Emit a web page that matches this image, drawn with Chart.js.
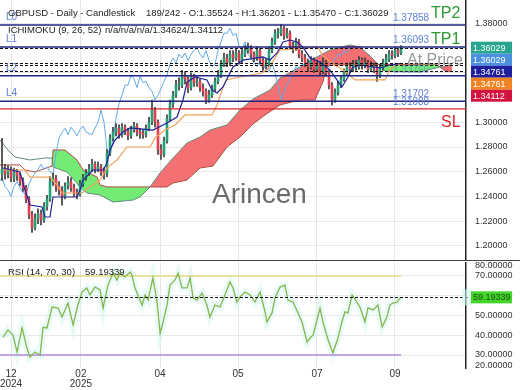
<!DOCTYPE html>
<html>
<head>
<meta charset="utf-8">
<script src="https://cdn.jsdelivr.net/npm/chart.js@4.4.1/dist/chart.umd.min.js"></script>
<style>
body { margin: 0; background: #fff; }
#wrap { position: relative; width: 520px; height: 390px; overflow: hidden; }
canvas { position: absolute; left: 0; }
</style>
</head>
<body>
<div id="wrap">
  <canvas id="main" width="520" height="260" style="top:0"></canvas>
  <canvas id="rsi" width="520" height="130" style="top:260px"></canvas>
</div>
<script>
// GBPUSD daily candles (one candle per ~1.5 sessions)
const closes = [
  1.262,1.258,1.262,1.255,1.260,1.257,1.252,1.247,1.238,1.225,
  1.215,1.222,1.226,1.221,1.232,1.238,1.252,1.255,1.248,1.245,
  1.240,1.248,1.252,1.247,1.243,1.242,1.250,1.255,1.259,1.262,
  1.266,1.262,1.264,1.260,1.258,1.275,1.287,1.292,1.295,1.290,
  1.296,1.293,1.289,1.294,1.297,1.292,1.291,1.290,1.295,1.300,
  1.310,1.300,1.278,1.274,1.285,1.303,1.315,1.322,1.330,1.330,
  1.338,1.335,1.328,1.337,1.332,1.333,1.328,1.325,1.318,1.322,
  1.327,1.333,1.338,1.347,1.352,1.348,1.355,1.352,1.356,1.350,
  1.355,1.358,1.360,1.355,1.352,1.358,1.350,1.345,1.347,1.358,
  1.365,1.372,1.372,1.376,1.370,1.372,1.362,1.360,1.365,1.355,
  1.352,1.348,1.345,1.350,1.343,1.346,1.341,1.348,1.340,1.330,
  1.318,1.324,1.330,1.335,1.340,1.345,1.343,1.347,1.345,1.350,
  1.346,1.348,1.343,1.345,1.344,1.338,1.344,1.348,1.351,1.355,
  1.354,1.358,1.356,1.36029
];
const highs = [
  1.287,1.266,1.265,1.264,1.263,1.262,1.259,1.255,1.249,1.240,
  1.228,1.226,1.230,1.229,1.235,1.241,1.256,1.259,1.257,1.252,
  1.248,1.251,1.256,1.255,1.250,1.246,1.253,1.258,1.262,1.266,
  1.270,1.268,1.268,1.266,1.263,1.278,1.290,1.296,1.299,1.298,
  1.299,1.298,1.295,1.297,1.300,1.299,1.295,1.294,1.298,1.304,
  1.318,1.312,1.302,1.282,1.288,1.306,1.318,1.325,1.334,1.336,
  1.342,1.341,1.337,1.340,1.339,1.337,1.335,1.331,1.327,1.326,
  1.330,1.336,1.342,1.350,1.356,1.355,1.358,1.358,1.360,1.358,
  1.359,1.362,1.364,1.362,1.357,1.361,1.360,1.352,1.351,1.361,
  1.368,1.375,1.376,1.379,1.378,1.376,1.374,1.365,1.368,1.367,
  1.358,1.355,1.351,1.353,1.352,1.350,1.349,1.352,1.350,1.342,
  1.332,1.327,1.333,1.338,1.343,1.348,1.348,1.350,1.350,1.353,
  1.352,1.352,1.350,1.349,1.348,1.346,1.347,1.351,1.355,1.358,
  1.358,1.361,1.360,1.36201
];
const lows = [
  1.253,1.254,1.255,1.252,1.252,1.253,1.249,1.244,1.235,1.222,
  1.211,1.213,1.218,1.217,1.219,1.229,1.236,1.249,1.244,1.241,
  1.233,1.238,1.246,1.244,1.240,1.238,1.240,1.248,1.253,1.257,
  1.260,1.259,1.260,1.257,1.254,1.256,1.273,1.285,1.289,1.287,
  1.288,1.290,1.286,1.287,1.292,1.289,1.287,1.287,1.288,1.293,
  1.298,1.296,1.274,1.270,1.272,1.283,1.301,1.312,1.320,1.326,
  1.328,1.331,1.324,1.326,1.329,1.329,1.325,1.321,1.315,1.316,
  1.320,1.325,1.331,1.336,1.345,1.345,1.346,1.349,1.350,1.347,
  1.348,1.353,1.356,1.352,1.349,1.350,1.347,1.342,1.343,1.345,
  1.356,1.363,1.368,1.370,1.367,1.368,1.359,1.356,1.358,1.352,
  1.349,1.345,1.341,1.343,1.340,1.341,1.338,1.339,1.337,1.327,
  1.314,1.316,1.322,1.328,1.333,1.338,1.340,1.341,1.342,1.343,
  1.343,1.344,1.340,1.341,1.340,1.333,1.336,1.342,1.346,1.349,
  1.351,1.352,1.353,1.3547
];
const firstOpen = 1.258;

// Ichimoku (9, 26, 52) lines, [candle index, price]
const tenkanIdx = [0.33,6,7.67,9.33,13.33,14.33,16,17,25,26,27,30.33,33.67,35,36,37.67,40.33,42.67,50.33,55,58.33,60.33,61.67,64.33,68.33,70,71.67,73.67,75.33,77,80.33,87,89.33,91.67,93.67,96,98.33,100.33,102.67,106,109.33,111.67,113.33,115.33,117,119.33,126,129.33,133];
const tenkanVal = [1.2630,1.2598,1.2452,1.2331,1.2315,1.2234,1.2234,1.2396,1.2396,1.2452,1.2533,1.2614,1.2614,1.2671,1.2776,1.2857,1.2921,1.2954,1.2937,1.2994,1.3042,1.3180,1.3325,1.3366,1.3342,1.3261,1.3237,1.3285,1.3366,1.3447,1.3503,1.3528,1.3503,1.3560,1.3649,1.3665,1.3649,1.3608,1.3520,1.3487,1.3422,1.3342,1.3285,1.3366,1.3447,1.3463,1.3439,1.3463,1.34761];
const kijunIdx = [0.33,7.67,9.33,16,18.33,20,26.67,29.33,32.67,35.33,38.33,41.67,49.33,51,54.33,57.67,61,70,71.67,73.33,74.67,81,86.67,88.67,91,92.67,105.33,106.67,110.33,114.33,117.67,127.67,129.33,133];
const kijunVal = [1.2614,1.2614,1.2557,1.2557,1.2493,1.2428,1.2428,1.2477,1.2533,1.2638,1.2695,1.2800,1.2800,1.2873,1.2937,1.2978,1.3059,1.3059,1.3140,1.3261,1.3342,1.3374,1.3398,1.3431,1.3520,1.3584,1.3608,1.3544,1.3471,1.3414,1.3342,1.3342,1.3431,1.34761];
const spanAIdx = [-0.67,2,4.33,9.33,14.33,16.67,17,21.67,26,28.33,32.67,37,43.67,46,49.33,52.67,55,57,61.67,66,69.33,75,79.33,83.67,89.33,92.67,99.33,104.33,109.33,116,119.33,122.67,127.67,139.33,146,150];
const spanAVal = [1.2857,1.2776,1.2719,1.2695,1.2711,1.2711,1.2638,1.2598,1.2477,1.2428,1.2412,1.2355,1.2371,1.2396,1.2477,1.2590,1.2655,1.2711,1.2832,1.2881,1.2937,1.2978,1.3099,1.3188,1.3261,1.3358,1.3447,1.3520,1.3584,1.3625,1.3608,1.3536,1.3414,1.3406,1.3447,1.34624];
const spanBIdx = [-0.67,6,7.67,11,16.67,17,21,25,27,31.67,32.67,35,49.33,55,57,61.67,66,70.33,75,79.33,83.67,87.67,92.67,99.33,104.33,105.33,107,108,109.33,144.67,146,147.67,150];
const spanBVal = [1.2655,1.2655,1.2614,1.2598,1.2646,1.2776,1.2776,1.2695,1.2614,1.2557,1.2493,1.2477,1.2477,1.2477,1.2509,1.2533,1.2630,1.2646,1.2800,1.2881,1.2986,1.3059,1.3140,1.3180,1.3180,1.3237,1.3325,1.3439,1.3463,1.3471,1.3447,1.3414,1.34112];
const chikouShift = 17;
const cloudStart = 17;

// RSI (14, 70, 30)
const rsiIdx = [0.3,2,3.7,5,6.7,8.3,9.3,11,12.7,13.7,15,16.7,18.7,20,22,23.7,25.3,26.7,28.3,29.3,31,32.7,33.7,35.3,37,38.3,39.3,41,42.7,43.3,44.3,45.3,46.7,47.7,48.7,50.3,51.7,52.7,53.7,55,56,57.7,58.7,60,61.7,62.7,63.7,65,66.7,68.3,69.3,71,72.7,74.3,76,77,78.3,79.3,81,82.7,84.3,86,87.7,88.3,90,91,92.7,94.3,95.3,97,98.7,100,101.7,102.7,103.7,106,107,108.7,110.3,112,113.3,114.3,115.3,116.7,118.3,119.3,121,122,123.7,125.3,126.7,128.3,129.3,130.3,131.7,132.7,133];
const rsiVal = [39,42.7,40,31.5,43.7,33.5,29,31.5,30,44,43.7,54.3,53.8,49.2,56.3,45.2,55.3,61.9,63.9,60.4,64.4,62.9,53.8,65.4,71.5,68,71.5,69.5,72,70.5,64,60.4,55.3,60.4,57.8,69,56.8,41,46.7,55.3,65.4,68,71.5,64,64,69,58.9,57.8,61.4,55.3,49.2,55.3,54.3,60.4,67,63.9,56.8,59.4,61.9,60.4,56.8,61.9,51.8,46.7,51.3,58.9,64.4,65.4,57.8,56.8,51.3,46.7,36.6,38.6,40.1,53.8,46.7,37.6,31,38.6,46.7,51.8,51.3,60.4,56.8,54.3,46.7,53.8,52.8,55.3,44.2,49.2,55.3,56.3,56.8,58.9,59.19339];
const rsiLast = 59.19339;

// axes
const monthIdx = [3, 26.3, 52.7, 78.7, 105, 131];
const monthLabels = [['12', '2024'], ['02', '2025'], '04', '05', '07', '09'];
const priceTicks = [1.20, 1.22, 1.24, 1.26, 1.28, 1.30, 1.32, 1.34, 1.36, 1.38];
const rsiTicks = [20, 30, 40, 50, 60, 70, 80];

// trade levels
const tp2 = 1.37858, tp1 = 1.36093, lvl2 = 1.33760, lvl4 = 1.31702, sl = 1.31088;
const dashLevels = [1.36029, 1.34761, 1.34624, 1.34112];

const FONT = '"Liberation Sans", Arial, sans-serif';
Chart.defaults.font.family = FONT;

const xMin = -0.67, xMax = 154.67;
const toPts = (xs, ys) => xs.map((x, i) => ({ x: x, y: ys[i] }));
const opens = [firstOpen].concat(closes.slice(0, -1));
const candleCols = closes.map((c, i) => c >= opens[i] ? '#23a078' : '#e2404e');

const spanA = toPts(spanAIdx, spanAVal);
const spanB = toPts(spanBIdx, spanBVal);

// no extra padding around the plot for edge tick labels
const noPad = s => { s.paddingTop = 0; s.paddingBottom = 0; s.paddingLeft = 0; s.paddingRight = 0; };

function hline(ctx, x1, x2, y) {
    ctx.beginPath();
    ctx.moveTo(x1, y);
    ctx.lineTo(x2, y);
    ctx.stroke();
}

const mainOverlay = {
    id: 'mainOverlay',
    beforeDatasetsDraw(chart) {
        const ctx = chart.ctx;
        ctx.save();
        ctx.fillStyle = '#6a6a6a';
        ctx.font = '28px ' + FONT;
        ctx.fillText('Arincen', 212, 203);
        ctx.restore();
    },
    afterDatasetsDraw(chart) {
        const { ctx, chartArea: a, scales: { y } } = chart;
        ctx.save();
        ctx.lineWidth = 1;
        ctx.strokeStyle = '#111';
        ctx.setLineDash([3, 2]);
        dashLevels.forEach(v => hline(ctx, a.left, a.right, Math.round(y.getPixelForValue(v)) + 0.5));
        ctx.setLineDash([]);
        ctx.strokeStyle = '#1f2580';
        ctx.lineWidth = 1.5;
        [tp2, tp1, lvl2, lvl4].forEach(v => hline(ctx, a.left, a.right, y.getPixelForValue(v)));
        ctx.strokeStyle = '#d8232a';
        ctx.lineWidth = 1.2;
        hline(ctx, a.left, a.right, y.getPixelForValue(sl));
        ctx.restore();
    },
    afterDraw(chart) {
        const { ctx, scales: { y } } = chart;
        const py = v => y.getPixelForValue(v);
        ctx.save();
        // level names on the left
        ctx.font = '10px ' + FONT;
        ctx.fillStyle = '#5b7fd6';
        [['L0', tp2], ['L1', tp1], ['L2', lvl2], ['L4', lvl4]].forEach(([t, v]) => ctx.fillText(t, 6, py(v) - 5));
        // level prices
        [tp2, tp1, lvl4, sl].forEach(v => ctx.fillText(v.toFixed(5), 393, py(v) - 4));
        ctx.globalAlpha = 0.6;
        ctx.fillText(lvl2.toFixed(5), 393, py(lvl2) - 3);
        ctx.globalAlpha = 1;
        // headers
        ctx.font = '9.5px ' + FONT;
        ctx.fillStyle = '#222';
        ctx.fillText('GBPUSD - Daily - Candlestick', 8, 16);
        ctx.fillText('189/242 - O:1.35524 - H:1.36201 - L:1.35470 - C:1.36029', 146, 16);
        ctx.fillText('ICHIMOKU (9, 26, 52)', 8, 33);
        ctx.fillText('n/a/n/a/n/a/1.34624/1.34112', 105, 33);
        // trade labels
        ctx.font = '16px ' + FONT;
        ctx.fillStyle = '#2f9a35';
        ctx.fillText('TP2', 431, py(tp2) - 7);
        ctx.fillText('TP1', 431, py(tp1) - 3);
        ctx.fillStyle = '#d8232a';
        ctx.fillText('SL', 441, py(sl) + 18);
        ctx.fillStyle = 'rgba(120,120,120,0.75)';
        ctx.fillText('At Price', 407, py(dashLevels[1]) + 2);
        // value boxes on the price axis
        const boxes = [
            [closes[closes.length - 1], '#27a58e'],
            [closes[closes.length - 1], '#4a8fe0'],
            [tenkanVal[tenkanVal.length - 1], '#1e1e9c'],
            [kijunVal[kijunVal.length - 1], '#f28322'],
            [spanBVal[spanBVal.length - 1], '#d3123d']
        ];
        let prev = -100;
        ctx.font = '9px ' + FONT;
        ctx.textBaseline = 'middle';
        boxes.forEach(([v, c]) => {
            const cy = Math.max(py(v), prev + 12);
            prev = cy;
            ctx.fillStyle = c;
            ctx.fillRect(471, cy - 6, 41, 12);
            ctx.fillStyle = '#fff';
            ctx.fillText(v.toFixed(5), 473, cy + 0.5);
        });
        ctx.restore();
    }
};

new Chart(document.getElementById('main'), {
    type: 'bar',
    data: {
        datasets: [
            {
                type: 'line', data: spanA.filter(p => p.x >= cloudStart),
                borderWidth: 0, pointRadius: 0,
                fill: { target: '+1', above: 'rgba(244,96,100,0.9)', below: 'rgba(92,232,92,0.85)' },
                order: 20
            },
            {
                type: 'line', data: spanB.filter(p => p.x >= cloudStart),
                borderWidth: 0, pointRadius: 0, fill: false, order: 20
            },
            { type: 'line', data: spanA, borderColor: '#5e8d7c', borderWidth: 1, pointRadius: 0, fill: false, order: 15 },
            { type: 'line', data: spanB, borderColor: '#b5483f', borderWidth: 1, pointRadius: 0, fill: false, order: 15 },
            {
                type: 'line',
                data: closes.map((c, i) => ({ x: i - chikouShift, y: c })),
                borderColor: '#62aae8', borderWidth: 1, pointRadius: 0, fill: false, order: 12
            },
            {
                data: closes.map((c, i) => ({ x: i, y: [lows[i], highs[i]] })),
                backgroundColor: '#3a3a3a', barThickness: 1, grouped: false, order: 8
            },
            {
                data: closes.map((c, i) => ({ x: i, y: [opens[i], c] })),
                backgroundColor: candleCols, barThickness: 2, minBarLength: 1, grouped: false, order: 6
            },
            { type: 'line', data: toPts(tenkanIdx, tenkanVal), borderColor: '#22229a', borderWidth: 1.2, pointRadius: 0, fill: false, order: 4 },
            { type: 'line', data: toPts(kijunIdx, kijunVal), borderColor: '#f2a25c', borderWidth: 1.2, pointRadius: 0, fill: false, order: 4 }
        ]
    },
    options: {
        responsive: false,
        animation: false,
        events: [],
        layout: { padding: 0 },
        plugins: { legend: { display: false }, tooltip: { enabled: false } },
        scales: {
            x: {
                type: 'linear', min: xMin, max: xMax, offset: false,
                grid: { color: '#e6e6e6', offset: false, drawTicks: false },
                border: { display: false },
                ticks: { display: false },
                afterBuildTicks: s => { s.ticks = monthIdx.map(v => ({ value: v })); },
                afterFit: s => { s.height = 0; noPad(s); }
            },
            y: {
                position: 'right',
                min: 1.18865, max: 1.39884,
                grid: { color: '#e8e8e8', drawTicks: false },
                border: { color: '#222', width: 1.5 },
                ticks: { color: '#333', padding: 9, font: { size: 9 }, callback: v => v.toFixed(5) },
                afterBuildTicks: s => { s.ticks = priceTicks.map(v => ({ value: v })); },
                afterFit: s => { s.width = 54; noPad(s); }
            }
        }
    },
    plugins: [mainOverlay]
});

const rsiOverlay = {
    id: 'rsiOverlay',
    afterDatasetsDraw(chart) {
        const { ctx, chartArea: a, scales: { y } } = chart;
        ctx.save();
        ctx.strokeStyle = '#111';
        ctx.lineWidth = 1;
        ctx.setLineDash([3, 2]);
        hline(ctx, a.left, a.right + 4, Math.round(y.getPixelForValue(rsiLast)) + 0.5);
        ctx.restore();
    },
    afterDraw(chart) {
        const { ctx, scales: { y } } = chart;
        ctx.save();
        ctx.strokeStyle = '#444';
        ctx.lineWidth = 1;
        hline(ctx, 0, chart.width, 0.5);
        ctx.font = '9.5px ' + FONT;
        ctx.fillStyle = '#222';
        ctx.fillText('RSI (14, 70, 30)', 8, 15);
        ctx.fillText(rsiLast.toFixed(5), 85, 15);
        const cy = y.getPixelForValue(rsiLast);
        ctx.fillStyle = 'rgba(205,247,242,0.6)';
        ctx.fillRect(462, cy - 8, 10, 16);
        ctx.fillStyle = '#42d62a';
        ctx.fillRect(471, cy - 6, 41, 12);
        ctx.fillStyle = '#1b4a14';
        ctx.font = '9px ' + FONT;
        ctx.textBaseline = 'middle';
        ctx.fillText(rsiLast.toFixed(5), 473, cy + 0.5);
        ctx.restore();
    }
};

const rsiEnd = rsiIdx[rsiIdx.length - 1];
const rsiPts = toPts(rsiIdx, rsiVal);

new Chart(document.getElementById('rsi'), {
    type: 'line',
    data: {
        datasets: [
            // soft halo under the RSI line
            { data: rsiPts, borderColor: 'rgba(210,248,243,0.5)', borderWidth: 7, pointRadius: 0, fill: false, order: 9 },
            { data: [{ x: xMin, y: 70 }, { x: rsiEnd, y: 70 }], borderColor: '#e6da86', borderWidth: 1.5, pointRadius: 0, order: 5 },
            { data: [{ x: xMin, y: 30 }, { x: rsiEnd, y: 30 }], borderColor: '#b08ae6', borderWidth: 1.5, pointRadius: 0, order: 5 },
            { data: rsiPts, borderColor: '#87b54a', borderWidth: 1.3, pointRadius: 0, fill: false, order: 1 }
        ]
    },
    options: {
        responsive: false,
        animation: false,
        events: [],
        layout: { padding: { top: 3 } },
        plugins: { legend: { display: false }, tooltip: { enabled: false } },
        scales: {
            x: {
                type: 'linear', min: xMin, max: xMax,
                grid: { color: '#e6e6e6', drawTicks: false },
                border: { display: false },
                ticks: {
                    color: '#333', padding: 1, maxRotation: 0, autoSkip: false,
                    font: { size: 10, lineHeight: 1.0 },
                    callback: (v, i) => monthLabels[i]
                },
                afterBuildTicks: s => { s.ticks = monthIdx.map(v => ({ value: v })); },
                afterFit: s => { s.height = 22; noPad(s); }
            },
            y: {
                position: 'right',
                min: 23.42, max: 76.58,
                grid: {
                    drawTicks: false,
                    color: c => (c.index === 0 || c.index === rsiTicks.length - 1) ? 'rgba(0,0,0,0)' : '#e8e8e8'
                },
                border: { color: '#222', width: 1.5 },
                ticks: {
                    color: '#333', padding: 9, autoSkip: false, font: { size: 9 },
                    callback: (v, i) => rsiTicks[i].toFixed(5)
                },
                afterBuildTicks: s => {
                    s.ticks = rsiTicks.map(v => ({ value: Math.min(Math.max(v, s.min + 1.2), s.max - 1.2) }));
                },
                afterFit: s => { s.width = 54; noPad(s); }
            }
        }
    },
    plugins: [rsiOverlay]
});
</script>
</body>
</html>
